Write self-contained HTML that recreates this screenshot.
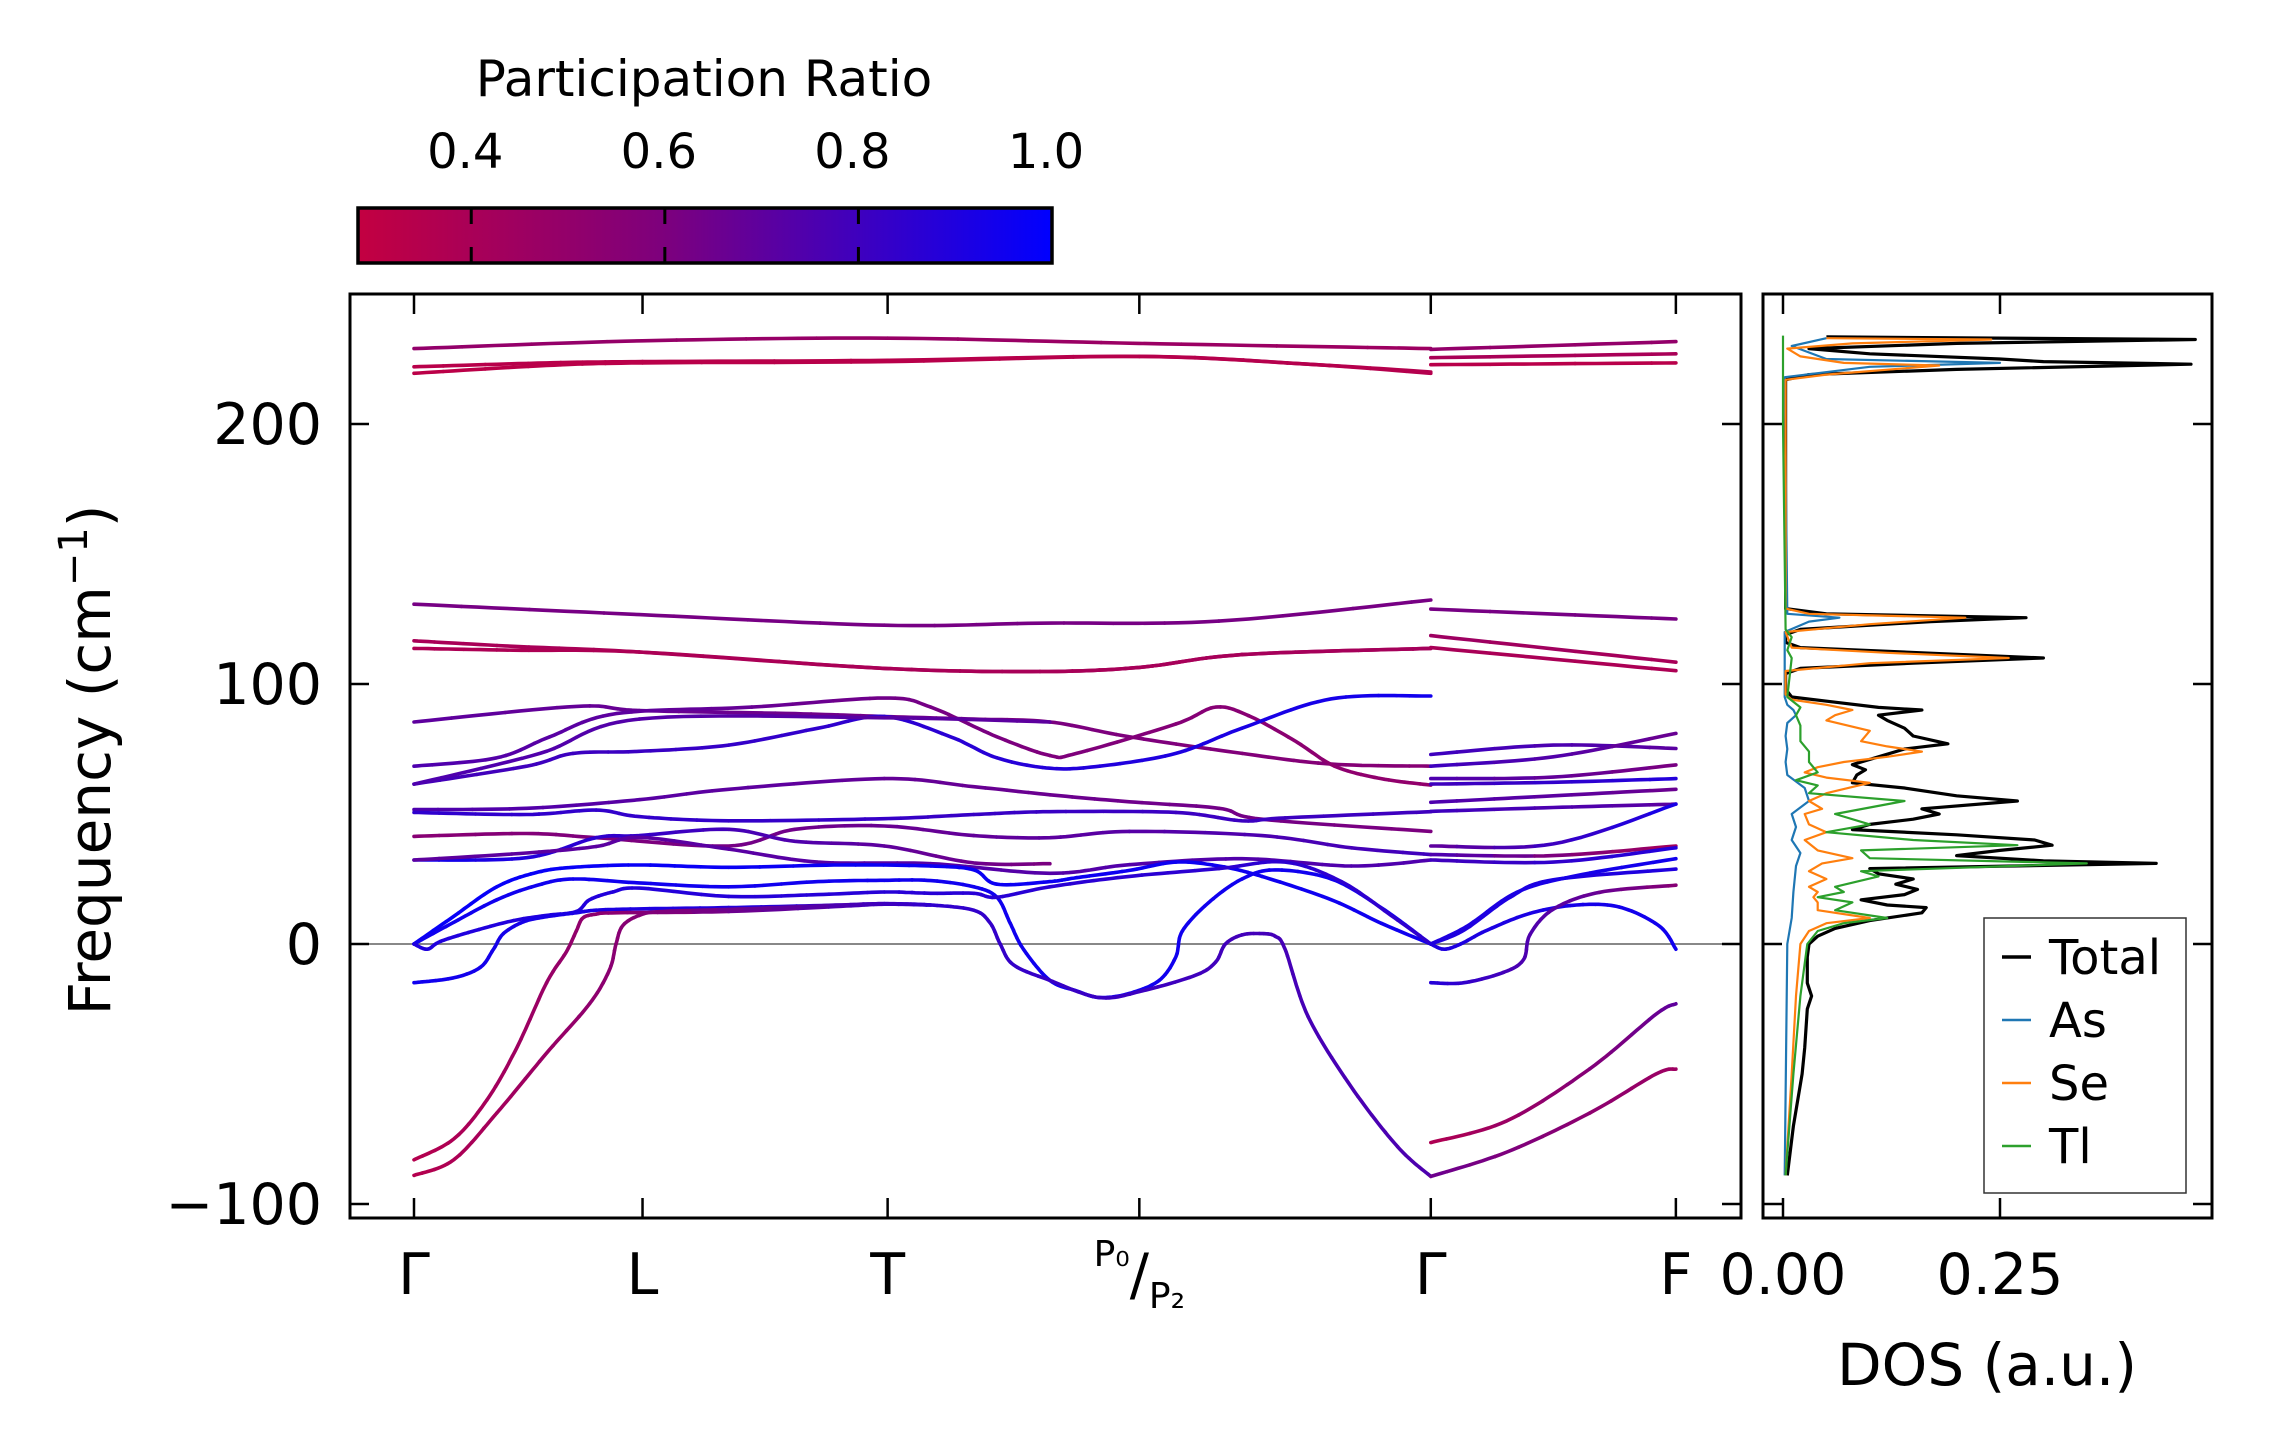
<!DOCTYPE html>
<html><head><meta charset="utf-8"><style>
html,body{margin:0;padding:0;background:#fff;}
svg{display:block;font-family:"DejaVu Sans","Liberation Sans",sans-serif;}
</style></head><body>
<svg id="chart" width="2271" height="1455" viewBox="0 0 2271 1455" xmlns="http://www.w3.org/2000/svg">
<defs>
<linearGradient id="cbgrad" x1="0" x2="1" y1="0" y2="0">
<stop offset="0" stop-color="rgb(195,0,65)"/>
<stop offset="0.442" stop-color="rgb(125,0,125)"/>
<stop offset="1" stop-color="rgb(0,0,255)"/>
</linearGradient>
<clipPath id="bandclip"><rect x="350" y="294" width="1391" height="924"/></clipPath>
<clipPath id="dosclip"><rect x="1763" y="294" width="449" height="924"/></clipPath>
</defs>
<g id="colorbar">
<text x="704" y="96" font-size="50" text-anchor="middle">Participation Ratio</text>
<rect x="358" y="208" width="694" height="55" fill="url(#cbgrad)" stroke="#000" stroke-width="3.5"/>
<g id="cbticks"></g>
</g>
<g id="bandaxes">
<line x1="350" x2="1741" y1="944" y2="944" stroke="#888" stroke-width="2"/>
<g id="bands" clip-path="url(#bandclip)"></g>
<g id="bandticks"></g>
<rect x="350" y="294" width="1391" height="924" fill="none" stroke="#000" stroke-width="3"/>
<text transform="translate(110,760) rotate(-90)" font-size="58" text-anchor="middle">Frequency (cm<tspan font-size="40" dy="-23">−1</tspan><tspan dy="23">)</tspan></text>
</g>
<g id="dosaxes">
<g id="dos" clip-path="url(#dosclip)"></g>
<g id="dosticks"></g>
<rect x="1763" y="294" width="449" height="924" fill="none" stroke="#000" stroke-width="3"/>
<text x="1987" y="1385" font-size="58" text-anchor="middle">DOS (a.u.)</text>
<g id="legend">
<rect x="1984" y="918" width="202" height="275" fill="#fff" stroke="#333" stroke-width="1.5"/>
</g>
</g>
</svg>
<script>
// ---------- data ----------
const kLabels = ["Γ","L","T","P0/P2","Γ","F"];
const kTicks = [0, 0.69, 1.43, 2.19, 3.07, 3.81];
const yTicks = [-100, 0, 100, 200];
const cbTicks = [0.4, 0.6, 0.8, 1.0];
const cbRange = [0.283, 1.0];
const dosTicks = [0.00, 0.25];
const dosTickLabels = ["0.00","0.25"];

const bandPts = [
 [[0,229],[0.69,232],[1.43,233],[2.19,231],[3.07,229]],
 [[0,222],[0.4,223.5],[0.69,224],[1.43,224.5],[2.19,226],[2.7,223],[3.07,220]],
 [[0,219.5],[0.4,222.5],[0.69,223.5],[1.43,224],[2.19,226],[2.7,223],[3.07,219.5]],
 [[3.07,228.7],[3.81,231.7]],
 [[3.07,225.5],[3.81,227]],
 [[3.07,222.8],[3.81,223.5]],
 [[0,130.7],[0.68,126.7],[1.42,122.6],[1.89,123.4],[2.43,124.2],[3.07,132.3]],
 [[3.07,128.8],[3.81,125]],
 [[0,116.6],[0.3,114.5],[0.68,112.3],[1.42,106],[1.89,104.8],[2.19,106.4],[2.5,111.3],[3.07,113.7]],
 [[0,113.7],[0.3,113],[0.68,112.3],[1.42,106],[1.89,104.8],[2.19,106.4],[2.5,111.3],[3.07,113.7]],
 [[3.07,118.6],[3.81,108.4]],
 [[3.07,114],[3.81,105.1]],
 [[0,85.4],[0.49,91.4],[0.68,89.8],[1.15,88.6],[1.42,87.5],[1.69,86.5],[1.92,85.4],[2.16,79.7],[2.5,73.3],[2.77,69.2],[3.07,68.4]],
 [[0,68.4],[0.25,71.6],[0.41,79.7],[0.61,88.6],[1.02,91.1],[1.42,94.6],[1.56,91.1],[1.76,79.7],[1.92,72.5],[2.0,73.3],[2.30,84.6],[2.42,91.1],[2.52,87.8],[2.66,78.1],[2.78,68.4],[2.92,63.6],[3.07,61.1]],
 [[0,61.5],[0.34,68.4],[0.48,73.3],[0.68,74.1],[0.95,76.5],[1.22,83],[1.42,87.5],[1.62,79.7],[1.76,71.6],[1.92,67.6],[2.07,68.4],[2.30,73.3],[2.50,83],[2.77,94.3],[3.07,95.4]],
 [[0,61.5],[0.38,73.3],[0.68,86.5],[1.42,87],[1.92,85.4]],
 [[3.07,72.9],[3.44,76.5],[3.81,75.2]],
 [[3.07,68.4],[3.44,72],[3.81,81]],
 [[3.07,63.6],[3.44,64.2],[3.81,68.9]],
 [[3.07,61.5],[3.44,62.2],[3.81,63.6]],
 [[3.07,54.5],[3.44,57],[3.81,59.5]],
 [[3.07,51],[3.44,52.5],[3.81,53.8]],
 [[0,51.7],[0.34,52.2],[0.68,55.5],[0.95,59.5],[1.42,63.6],[1.69,60.5],[1.92,57.4],[2.16,54.7],[2.43,52.2],[2.56,48],[3.07,43.3]],
 [[0,50.6],[0.34,49.8],[0.55,51.5],[0.68,49],[0.95,47.4],[1.42,48.2],[1.69,49.8],[1.92,50.9],[2.30,50.6],[2.50,47.4],[2.63,48.5],[3.07,50.9]],
 [[0,41.4],[0.34,42.5],[0.55,40.9],[0.95,37.7],[1.15,44.1],[1.42,45.4],[1.69,41.7],[1.92,40.9],[2.16,43.3],[2.56,41.7],[2.83,37],[3.07,34.4]],
 [[0,32.3],[0.34,33.2],[0.55,40.9],[0.68,41.7],[0.95,44.1],[1.15,39.5],[1.42,37.7],[1.69,31.2],[1.92,30.9]],
 [[0,32.3],[0.34,35],[0.55,37.5],[0.68,41],[0.95,36.5],[1.22,31.5],[1.56,30.9],[1.92,27.2],[2.16,30.5],[2.50,32.8],[2.83,30],[3.07,32.3]],
 [[3.07,37.7],[3.44,38.5],[3.81,53.8]],
 [[3.07,34.4],[3.44,34],[3.81,37.7]],
 [[3.07,32.3],[3.44,31.5],[3.81,37]],
 [[0,0],[0.115,10.2],[0.25,22],[0.37,27.5],[0.48,29.5],[0.68,30.4],[0.95,29.5],[1.29,30.4],[1.56,30],[1.69,28.5],[1.76,23],[1.92,24],[2.0,25.5],[2.16,28.3],[2.30,31.5],[2.43,30],[2.56,26],[2.77,17],[2.92,8],[3.07,0]],
 [[0,0],[0.115,8],[0.25,17],[0.37,22.5],[0.48,25],[0.68,23.5],[0.95,22],[1.22,24],[1.42,24.5],[1.56,24.4],[1.69,22],[1.76,18],[1.80,8],[1.84,-2],[1.92,-14],[2.0,-18],[2.07,-20.6],[2.16,-19],[2.25,-14],[2.30,-5],[2.32,5],[2.40,16],[2.50,25],[2.60,28.5],[2.77,25],[2.92,14],[3.07,0]],
 [[0,0],[0.04,-2],[0.08,1],[0.18,5],[0.30,9],[0.40,11],[0.49,12.5],[0.53,17],[0.60,20],[0.68,21.5],[0.95,18.3],[1.22,19],[1.42,20],[1.56,19.5],[1.69,19.5],[1.76,18],[1.92,22],[2.16,26],[2.43,29],[2.63,31.5],[2.80,24],[2.95,11],[3.07,0]],
 [[0,-14.9],[0.12,-13],[0.2,-9],[0.24,-2],[0.27,4],[0.33,8.5],[0.40,10.5],[0.49,12],[0.55,13],[0.68,13.5],[0.95,14],[1.29,15],[1.42,15.5],[1.56,15],[1.69,13],[1.74,8],[1.77,0],[1.81,-8],[1.92,-14],[2.07,-20.6],[2.2,-18],[2.36,-12],[2.42,-7],[2.45,0],[2.50,3.5],[2.56,4],[2.60,3],[2.63,-2],[2.70,-28],[2.83,-55],[2.97,-78],[3.07,-89.4]],
 [[0,-83],[0.12,-75],[0.22,-60],[0.31,-40],[0.40,-15],[0.46,-3],[0.49,5],[0.51,10],[0.55,11.5],[0.61,12],[0.95,12.5],[1.29,14.5],[1.42,15.3],[1.56,15]],
 [[0,-89],[0.12,-83],[0.25,-65],[0.40,-42],[0.53,-23],[0.59,-10],[0.61,0],[0.63,7],[0.68,11],[0.75,12.5],[1.0,13.5],[1.29,15],[1.42,15.5],[1.56,15]],
 [[3.07,0],[3.17,5.3],[3.31,18],[3.44,24.7],[3.81,28.8]],
 [[3.07,0],[3.18,6.9],[3.33,19.9],[3.51,26.3],[3.81,32.8]],
 [[3.07,0],[3.11,-2],[3.16,0],[3.24,5.3],[3.37,11.8],[3.51,15],[3.64,14.2],[3.76,6.9],[3.81,-2]],
 [[3.07,-14.9],[3.17,-14.9],[3.29,-10.9],[3.35,-6],[3.37,3.7],[3.44,13.4],[3.58,19.9],[3.81,22.6]],
 [[3.07,-76.4],[3.3,-68],[3.55,-48],[3.75,-27],[3.81,-23]],
 [[3.07,-89.4],[3.3,-80],[3.55,-65],[3.75,-50],[3.81,-48.1]]
];
const bandPrStart = [0.5,0.33,0.32,0.5,0.4,0.33,0.62,0.62,0.4,0.38,0.45,0.4,0.7,0.75,0.78,0.75,0.8,0.8,0.75,0.8,0.75,0.8,0.75,0.85,0.55,0.95,0.7,0.7,0.75,0.8,0.98,0.95,0.9,0.95,0.35,0.35,0.9,0.9,0.9,0.88,0.38,0.65];
const bandPrEnd   = [0.45,0.35,0.35,0.5,0.4,0.33,0.62,0.62,0.42,0.42,0.4,0.38,0.55,0.5,0.95,0.7,0.7,0.65,0.6,0.9,0.65,0.7,0.6,0.8,0.8,0.6,0.75,0.95,0.4,0.9,0.95,0.95,0.85,0.75,0.85,0.85,0.9,0.95,0.95,0.55,0.7,0.45];

const dosTotal = [[-89,0.005],[-70,0.012],[-50,0.022],[-40,0.025],[-25,0.028],[-20,0.033],[-15,0.028],[-5,0.028],[0,0.03],[3,0.04],[6,0.06],[9,0.1],[12,0.16],[14,0.165],[15,0.12],[17,0.09],[19,0.14],[21,0.155],[23,0.13],[25,0.15],[27,0.11],[29,0.1],[31,0.43],[32,0.3],[34,0.2],[36,0.25],[38,0.31],[40,0.29],[42,0.2],[44,0.08],[46,0.1],[48,0.15],[50,0.18],[52,0.16],[55,0.27],[57,0.2],[60,0.14],[62,0.08],[65,0.085],[67,0.095],[69,0.08],[72,0.11],[75,0.14],[77,0.19],[80,0.15],[83,0.14],[86,0.12],[88,0.11],[90,0.16],[91,0.11],[93,0.06],[95,0.01],[98,0.003],[104,0.003],[106,0.02],[108,0.15],[110,0.3],[112,0.16],[114,0.02],[116,0.003],[119,0.003],[121,0.02],[124,0.17],[125.5,0.28],[127,0.05],[129,0.003],[217,0.003],[219,0.03],[221,0.2],[223,0.47],[224,0.3],[225,0.25],[227,0.1],[229,0.03],[231,0.2],[232.5,0.475],[233.5,0.05]];
const dosAs = [[-89,0.002],[0,0.005],[10,0.01],[20,0.012],[30,0.015],[35,0.02],[40,0.01],[45,0.015],[50,0.01],[55,0.03],[60,0.025],[65,0.005],[70,0.003],[75,0.005],[80,0.003],[85,0.005],[88,0.015],[90,0.012],[92,0.005],[95,0.002],[120,0.002],[124,0.03],[125.5,0.065],[127,0.005],[218,0.002],[222,0.1],[223.5,0.25],[225,0.05],[230,0.01],[233,0.05]];
const dosSe = [[-89,0.003],[-50,0.01],[-20,0.015],[0,0.02],[5,0.03],[8,0.05],[10,0.1],[13,0.04],[16,0.04],[18,0.035],[20,0.04],[22,0.03],[25,0.05],[28,0.03],[31,0.045],[33,0.08],[36,0.04],[40,0.025],[43,0.05],[46,0.03],[50,0.025],[52,0.045],[55,0.03],[58,0.05],[62,0.1],[64,0.05],[66,0.025],[68,0.04],[70,0.07],[72,0.12],[74,0.16],[76,0.12],[78,0.09],[82,0.1],[86,0.05],[88,0.06],[90,0.08],[92,0.05],[94,0.01],[96,0.003],[105,0.003],[108,0.1],[110,0.26],[112,0.12],[114,0.01],[120,0.003],[123,0.1],[125.5,0.21],[127,0.03],[129,0.003],[217,0.003],[219,0.05],[222.5,0.18],[223.5,0.07],[226,0.02],[229,0.005],[231,0.08],[232.5,0.24],[233,0.05]];
const dosTl = [[-89,0.003],[-50,0.012],[-20,0.02],[0,0.028],[5,0.04],[8,0.07],[10,0.12],[13,0.06],[16,0.08],[18,0.04],[20,0.07],[22,0.06],[26,0.11],[28,0.09],[31,0.35],[33,0.1],[36,0.09],[38,0.27],[40,0.15],[43,0.05],[46,0.1],[50,0.06],[55,0.14],[58,0.03],[61,0.04],[63,0.015],[66,0.04],[70,0.03],[74,0.03],[78,0.02],[84,0.02],[88,0.015],[91,0.02],[95,0.005],[110,0.01],[113,0.005],[118,0.01],[121,0.003],[200,0.0],[230,0.0],[234,0.0]];
const legendNames = ["Total","As","Se","Tl"];
const legendColors = ["#000000","#1f77b4","#ff7f0e","#2ca02c"];

// ---------- scales ----------
const NS = "http://www.w3.org/2000/svg";
const xK = k => 414 + k * 331.2;
const yF = f => 944 - f * 2.6;
const xD = d => 1783 + d * 868;
const xCb = v => 358 + (v - cbRange[0]) / (cbRange[1] - cbRange[0]) * 694;
function mk(tag, attrs, parent){ const e=document.createElementNS(NS,tag); for(const a in attrs) e.setAttribute(a,attrs[a]); parent.appendChild(e); return e; }
function prColor(p){
  const t=Math.max(0,Math.min(1,(p-cbRange[0])/(cbRange[1]-cbRange[0])));
  let r,b;
  if(t<0.442){const u=t/0.442; r=195+(125-195)*u; b=65+(125-65)*u;}
  else{const u=(t-0.442)/0.558; r=125*(1-u); b=125+(255-125)*u;}
  return "rgb("+Math.round(r)+",0,"+Math.round(b)+")";
}
function catmull(pts, n){
  const out=[];
  for(let i=0;i<pts.length-1;i++){
    const p0=pts[Math.max(0,i-1)],p1=pts[i],p2=pts[i+1],p3=pts[Math.min(pts.length-1,i+2)];
    for(let s=0;s<n;s++){
      const t=s/n,t2=t*t,t3=t2*t;
      const f=(a,b,c,d)=>0.5*((2*b)+(-a+c)*t+(2*a-5*b+4*c-d)*t2+(-a+3*b-3*c+d)*t3);
      out.push([f(p0[0],p1[0],p2[0],p3[0]),f(p0[1],p1[1],p2[1],p3[1])]);
    }
  }
  out.push(pts[pts.length-1]);
  return out;
}

// ---------- colorbar ticks ----------
const cbG=document.getElementById('cbticks');
cbTicks.forEach((v,i)=>{
  const x=xCb(v);
  if(v<cbRange[1]){
    const t1=mk('line',{x1:x,x2:x,y1:208,y2:224,stroke:'#000','stroke-width':3},cbG);
    
    
    const t2=mk('line',{x1:x,x2:x,y1:247,y2:263,stroke:'#000','stroke-width':3},cbG);
    
    
  }
  const tx=mk('text',{x:x-6,y:168,'font-size':48,'text-anchor':'middle'},cbG);
  
  
  tx.textContent=v.toFixed(1);
});

// ---------- bands ----------
const bg=document.getElementById('bands');
bandPts.forEach((pts,bi)=>{
  const g=mk('g',{},bg);
  
  
  const sm=catmull(pts,14);
  const k0=pts[0][0],k1=pts[pts.length-1][0];
  const chunk=4;
  for(let i=0;i<sm.length-1;i+=chunk){
    const seg=sm.slice(i,Math.min(sm.length,i+chunk+1));
    const km=seg[0][0];
    const t=(k1>k0)?(km-k0)/(k1-k0):0;
    const p=bandPrStart[bi]+(bandPrEnd[bi]-bandPrStart[bi])*t;
    const d=seg.map((q,j)=>(j?'L':'M')+xK(q[0]).toFixed(1)+' '+yF(q[1]).toFixed(1)).join(' ');
    mk('path',{d:d,fill:'none',stroke:prColor(p),'stroke-width':3.6,'stroke-linecap':'round','stroke-linejoin':'round'},g);
  }
});

// ---------- band ticks ----------
const bt=document.getElementById('bandticks');
kTicks.forEach((k,i)=>{
  const x=xK(k);
  const a=mk('line',{x1:x,x2:x,y1:294,y2:314,stroke:'#000','stroke-width':2.5},bt);
  
  
  const b=mk('line',{x1:x,x2:x,y1:1198,y2:1218,stroke:'#000','stroke-width':2.5},bt);
  
  
  const lab=kLabels[i];
  const t=mk('text',{x:x,y:1294,'font-size':57,'text-anchor':'middle'},bt);
  
  
  if(lab==="P0/P2"){
    const s1=mk('tspan',{'font-size':36,dy:-28},t); s1.textContent='P₀';
    const s2=mk('tspan',{dy:28},t); s2.textContent='/';
    const s3=mk('tspan',{'font-size':36,dy:14},t); s3.textContent='P₂';
  } else {
    t.textContent=lab;
  }
});
yTicks.forEach(v=>{
  const y=yF(v);
  [[350,369],[1722,1741],[1763,1782],[2193,2212]].forEach(([x1,x2])=>{
    const l=mk('line',{x1:x1,x2:x2,y1:y,y2:y,stroke:'#000','stroke-width':2.5},bt);
    
    
  });
  const t=mk('text',{x:322,y:y+20,'font-size':57,'text-anchor':'end'},bt);
  
  
  t.textContent=(v<0?'−':'')+Math.abs(v);
});

// ---------- DOS ----------
const dg=document.getElementById('dos');
const series=[[dosTotal,'#000000',3.2,'dos-total'],[dosAs,'#1f77b4',2.2,'dos-as'],[dosSe,'#ff7f0e',2.2,'dos-se'],[dosTl,'#2ca02c',2.2,'dos-tl']];
series.forEach(([arr,c,w,name])=>{
  const d=arr.map((q,j)=>(j?'L':'M')+xD(q[1]).toFixed(1)+' '+yF(q[0]).toFixed(1)).join(' ');
  const p=mk('path',{d:d,fill:'none',stroke:c,'stroke-width':w,'stroke-linejoin':'round'},dg);
  
  
});
const dt=document.getElementById('dosticks');
dosTicks.forEach((v,i)=>{
  const x=xD(v);
  const a=mk('line',{x1:x,x2:x,y1:294,y2:314,stroke:'#000','stroke-width':2.5},dt);
  
  
  const b=mk('line',{x1:x,x2:x,y1:1198,y2:1218,stroke:'#000','stroke-width':2.5},dt);
  
  
  const t=mk('text',{x:x,y:1294,'font-size':57,'text-anchor':'middle'},dt);
  
  
  t.textContent=dosTickLabels[i];
});
const lg=document.getElementById('legend');
legendNames.forEach((n,i)=>{
  const y=957+i*63;
  const l=mk('line',{x1:2002,x2:2031,y1:y,y2:y,stroke:legendColors[i],'stroke-width':i===0?3.5:2.5},lg);
  
  
  const t=mk('text',{x:2049,y:y+17,'font-size':48},lg);
  
  
  t.textContent=n;
});
</script>
</body></html>
